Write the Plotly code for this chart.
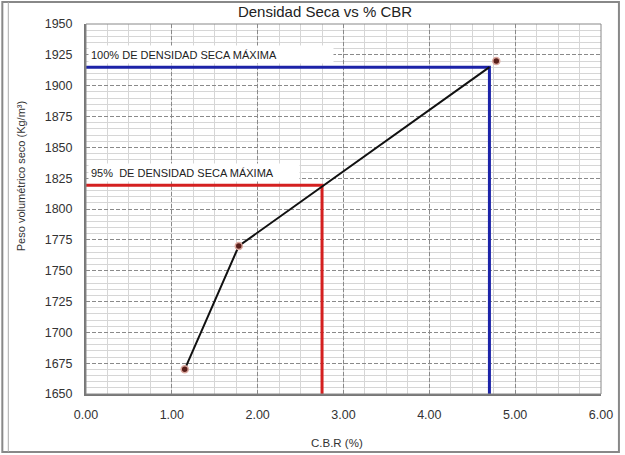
import plotly.graph_objects as go

# Data
cbr_points = [1.15, 1.78, 4.78]
density_points = [1670, 1770, 1920]
curve_x = [1.15, 1.78, 4.70]
curve_y = [1670, 1770, 1915]
max_density = 1915
max_cbr = 4.70
dens95 = 1819.25
cbr95 = 2.75
y_min, y_max = 1650, 1950
x_min, x_max = 0, 6
x_ticks = [0, 1, 2, 3, 4, 5, 6]
x_tick_labels = ["0.00", "1.00", "2.00", "3.00", "4.00", "5.00", "6.00"]

W, H = 625, 455
L, R, T, B = 86, 22, 24, 61
pw, ph = W - L - R, H - T - B

def px_x(p):
    return (p - L) / pw

def px_y(p):
    return (H - B - p) / ph

fig = go.Figure()

# 95% reference line
fig.add_trace(go.Scatter(x=[x_min, cbr95, cbr95], y=[dens95, dens95, y_min], mode="lines",
                         line=dict(color="#d42020", width=3), showlegend=False, hoverinfo="skip"))
# 100% reference line
fig.add_trace(go.Scatter(x=[x_min, max_cbr, max_cbr], y=[max_density, max_density, y_min], mode="lines",
                         line=dict(color="#1c23a8", width=3), showlegend=False, hoverinfo="skip"))
# curve
fig.add_trace(go.Scatter(x=curve_x, y=curve_y, mode="lines",
                         line=dict(color="#111111", width=2), showlegend=False))
# points
fig.add_trace(go.Scatter(x=cbr_points, y=density_points, mode="markers",
                         marker=dict(color="#5a1f1a", size=7, line=dict(color="#dba89f", width=1.5)),
                         showlegend=False))

font = "Liberation Sans, Arial, sans-serif"

fig.add_annotation(x=px_x(88), y=px_y(54.5), xref="paper", yref="paper", xanchor="left", yanchor="middle",
                   text="100% DE DENSIDAD SECA MÁXIMA", showarrow=False, bgcolor="white",
                   width=240, height=13, align="left", borderpad=2,
                   font=dict(family=font, size=11, color="#222"))
fig.add_annotation(x=px_x(88), y=px_y(172), xref="paper", yref="paper", xanchor="left", yanchor="middle",
                   text="95%  DE DENSIDAD SECA MÁXIMA", showarrow=False, bgcolor="white",
                   width=206, height=13, align="left", borderpad=2,
                   font=dict(family=font, size=11, color="#222"))

# axis titles
fig.add_annotation(x=px_x(21), y=px_y(176), xref="paper", yref="paper", xanchor="center", yanchor="middle",
                   text="Peso volumétrico seco (Kg/m³)", textangle=-90, showarrow=False,
                   font=dict(family=font, size=11, color="#333"))
fig.add_annotation(x=px_x(338), y=px_y(443), xref="paper", yref="paper", xanchor="center", yanchor="middle",
                   text="C.B.R (%)", showarrow=False,
                   font=dict(family=font, size=11.5, color="#333"))

# outer frame
fig.add_shape(type="rect", xref="paper", yref="paper",
              x0=px_x(2), x1=px_x(621), y0=px_y(452), y1=px_y(2),
              line=dict(color="#888", width=2), layer="below")
fig.add_shape(type="line", xref="paper", yref="paper",
              x0=px_x(8), x1=px_x(8), y0=px_y(452), y1=px_y(2),
              line=dict(color="#aaa", width=1), layer="below")

fig.update_layout(
    width=W, height=H,
    margin=dict(l=L, r=R, t=T, b=B),
    paper_bgcolor="white", plot_bgcolor="white",
    title=dict(text="Densidad Seca vs % CBR", x=325 / W, xanchor="center", y=1 - 12 / H, yanchor="middle",
               font=dict(family=font, size=15, color="#222")),
    font=dict(family=font, size=11, color="#333"),
    xaxis=dict(range=[x_min, x_max], tickvals=x_ticks, ticktext=x_tick_labels,
               showgrid=True, gridcolor="#8a8a8a", griddash="4px,2px", gridwidth=1,
               minor=dict(dtick=0.25, showgrid=True, gridcolor="#d6d6d6", gridwidth=1, griddash="solid"),
               showline=True, linecolor="#777", linewidth=2, zeroline=False, ticks="",
               ticklabelstandoff=8,
               tickfont=dict(size=12.5, color="#333")),
    yaxis=dict(range=[y_min, y_max], dtick=25,
               showgrid=True, gridcolor="#8a8a8a", griddash="4px,2px", gridwidth=1,
               minor=dict(dtick=5, showgrid=True, gridcolor="#d6d6d6", gridwidth=1, griddash="solid"),
               showline=True, linecolor="#777", linewidth=2, zeroline=False, ticks="",
               ticklabelstandoff=9,
               tickfont=dict(size=12.5, color="#333")),
)
fig.add_shape(type="rect", xref="paper", yref="paper", x0=0, x1=1, y0=0, y1=1,
              line=dict(color="#888", width=1))

fig.write_html("out.html")
